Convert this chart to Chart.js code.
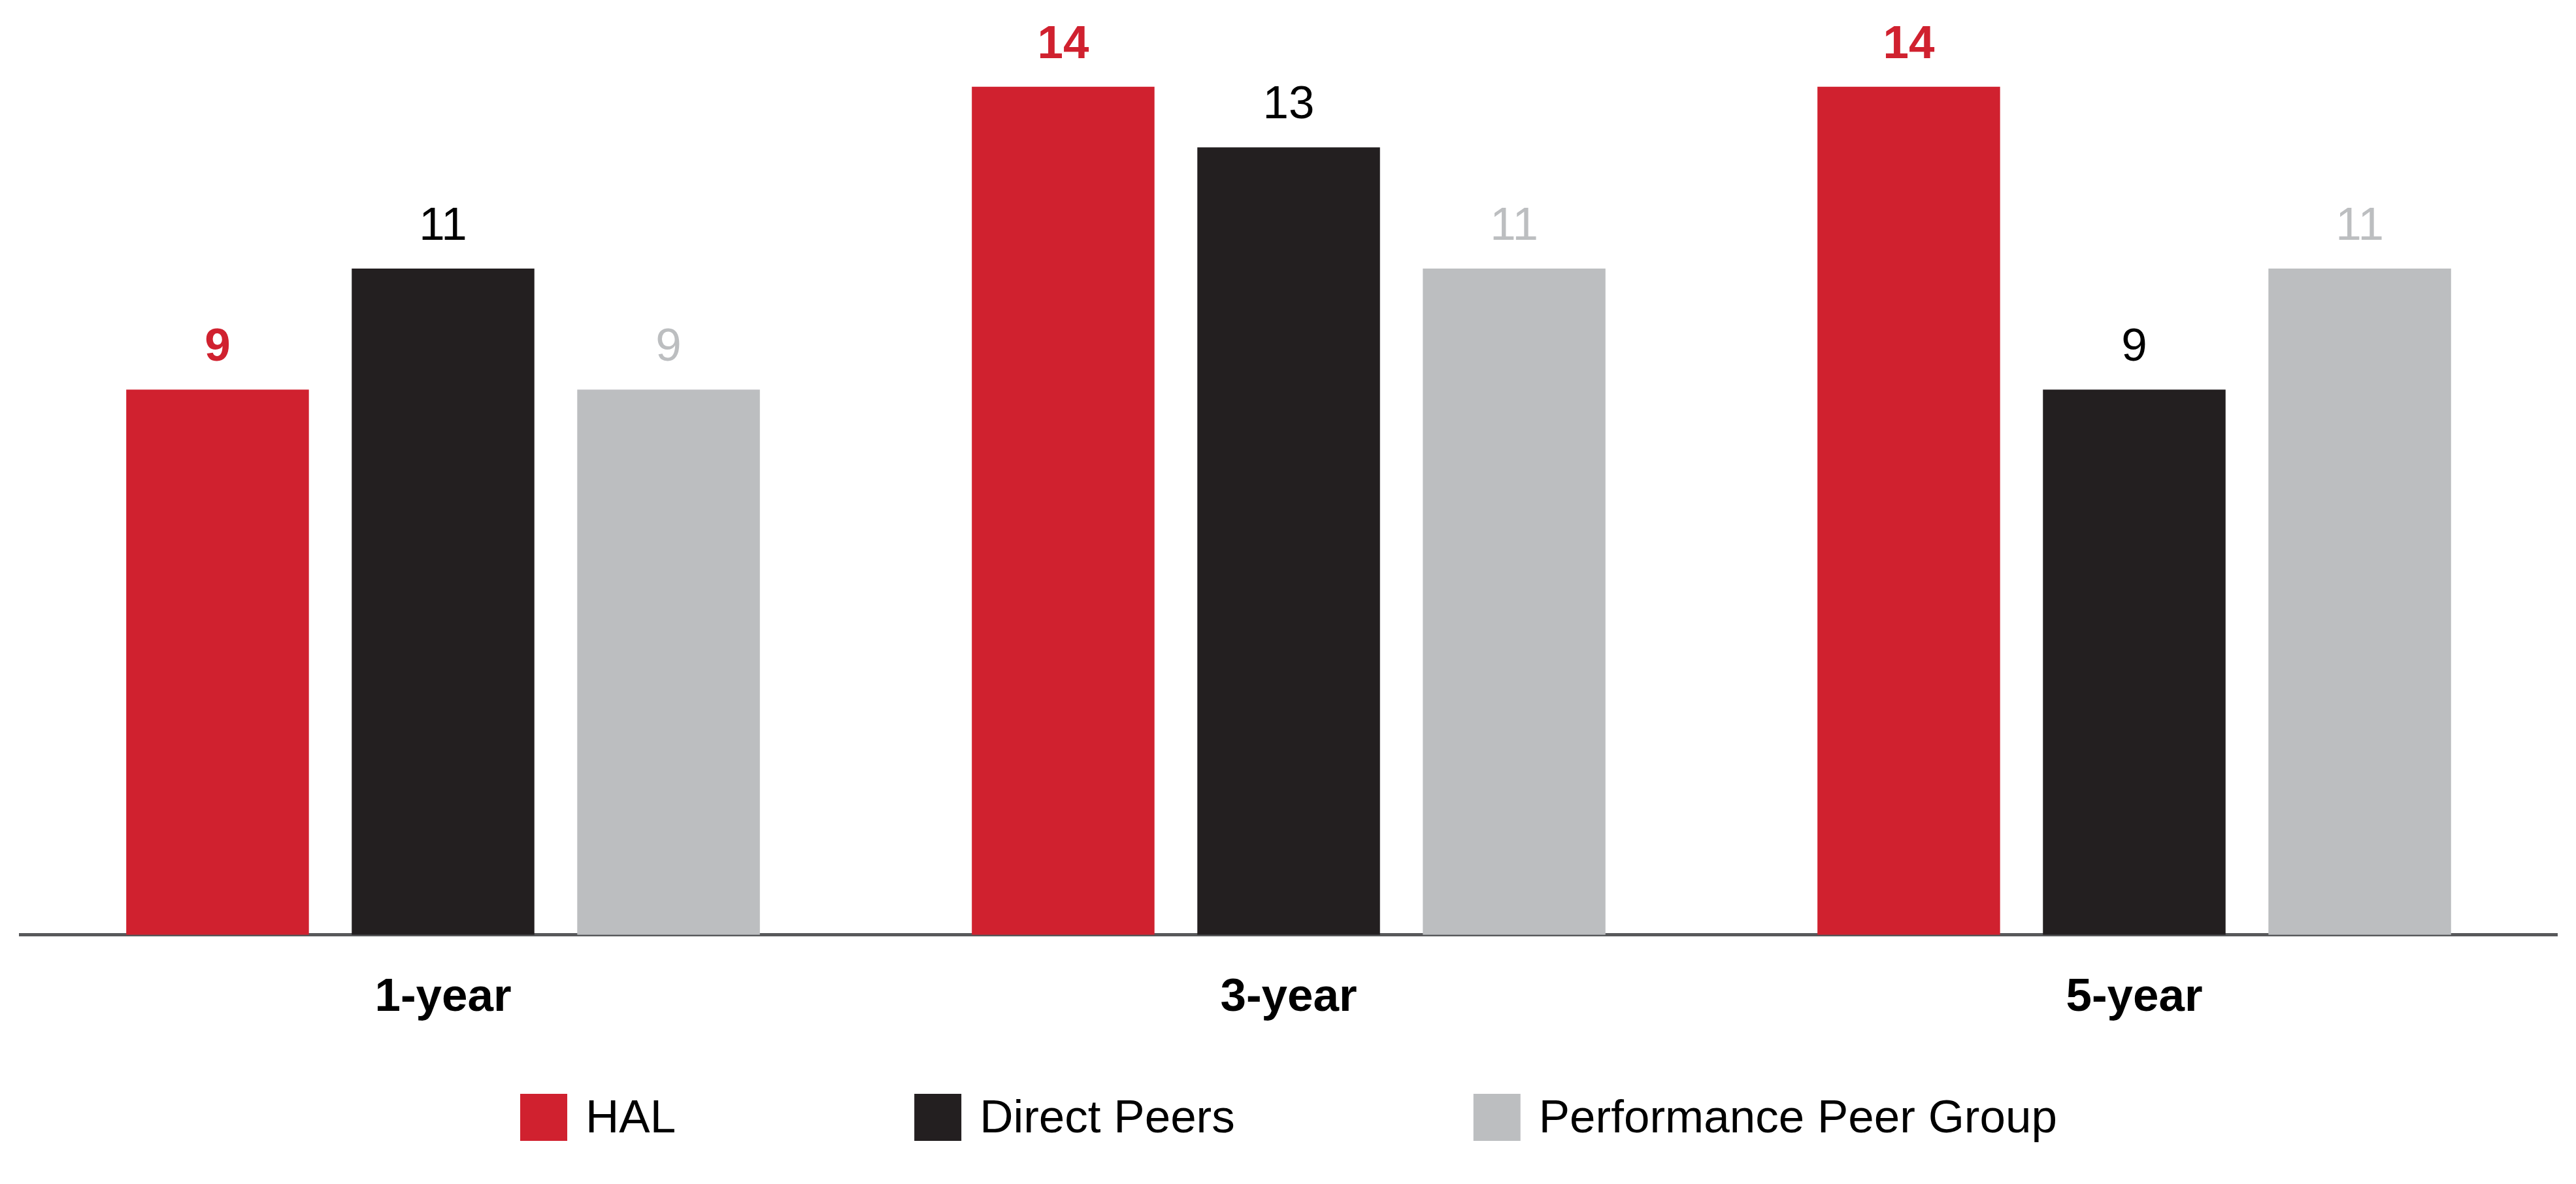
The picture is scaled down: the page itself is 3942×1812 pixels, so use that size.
<!DOCTYPE html>
<html>
<head>
<meta charset="utf-8">
<script src="https://cdn.jsdelivr.net/npm/chart.js@4.4.0/dist/chart.umd.min.js"></script>
<style>
  html, body { margin: 0; padding: 0; background: #fff; }
  #wrap { width: 3942px; height: 1812px; }
</style>
</head>
<body>
<div id="wrap"><canvas id="grafico"></canvas></div>
<script>
// Retorno por período
const periods = ['1-year', '3-year', '5-year'];
const hal = [9, 14, 14];
const directPeers = [11, 13, 9];
const performancePeers = [9, 11, 11];
const seriesNames = ['HAL', 'Direct Peers', 'Performance Peer Group'];

const red = '#d0212f';
const black = '#231f20';
const grey = '#bcbec0';
const font = '"Liberation Sans", Arial, Helvetica, sans-serif';

// numeros em cima das barras
const valueLabels = {
  id: 'valueLabels',
  afterDatasetsDraw(chart) {
    const ctx = chart.ctx;
    ctx.save();
    ctx.textAlign = 'center';
    ctx.textBaseline = 'alphabetic';
    chart.data.datasets.forEach((ds, i) => {
      const meta = chart.getDatasetMeta(i);
      ctx.fillStyle = ds.labelColor;
      ctx.font = (ds.labelBold ? 'bold ' : '') + '71px ' + font;
      meta.data.forEach((bar, j) => {
        ctx.fillText(ds.data[j], bar.x, bar.y - 44);
      });
    });
    ctx.restore();
  }
};

// legenda feita a mao, a padrao nao deixa esse espacamento largo
const manualLegend = {
  id: 'manualLegend',
  afterDraw(chart) {
    const ctx = chart.ctx;
    const box = 72, gap = 28, spacing = 365, top = 1674;
    ctx.save();
    ctx.font = '71px ' + font;
    const widths = chart.data.datasets.map(ds => box + gap + ctx.measureText(ds.label).width);
    const total = widths.reduce((a, b) => a + b, 0) + spacing * (widths.length - 1);
    let x = (chart.chartArea.left + chart.chartArea.right) / 2 - total / 2;
    ctx.textBaseline = 'middle';
    ctx.textAlign = 'left';
    chart.data.datasets.forEach((ds, i) => {
      ctx.fillStyle = ds.backgroundColor;
      ctx.fillRect(x, top, box, box);
      ctx.fillStyle = '#000';
      ctx.fillText(ds.label, x + box + gap, top + box / 2 + 3);
      x += widths[i] + spacing;
    });
    ctx.restore();
  }
};

const ctx = document.getElementById('grafico').getContext('2d');

const grafico = new Chart(ctx, {
  type: 'bar',
  data: {
    labels: periods,
    datasets: [
      { label: seriesNames[0], data: hal, backgroundColor: red, labelColor: red, labelBold: true },
      { label: seriesNames[1], data: directPeers, backgroundColor: black, labelColor: '#000', labelBold: false },
      { label: seriesNames[2], data: performancePeers, backgroundColor: grey, labelColor: grey, labelBold: false }
    ].map(ds => Object.assign(ds, { barPercentage: 0.81, categoryPercentage: 0.8, borderWidth: 0 }))
  },
  options: {
    responsive: true,
    maintainAspectRatio: false,
    animation: false,
    layout: {
      padding: { top: 40, left: 31, right: 29, bottom: 188 }
    },
    plugins: {
      legend: { display: false },
      tooltip: { enabled: false }
    },
    scales: {
      x: {
        z: 1,
        grid: { display: false, drawTicks: false },
        border: { display: true, color: '#58595b', width: 5 },
        ticks: {
          color: '#000',
          padding: 54,
          font: { family: font, size: 71, weight: 'bold' }
        }
      },
      y: {
        display: false,
        min: 0,
        max: 15
      }
    }
  },
  plugins: [valueLabels, manualLegend]
});
</script>
</body>
</html>
